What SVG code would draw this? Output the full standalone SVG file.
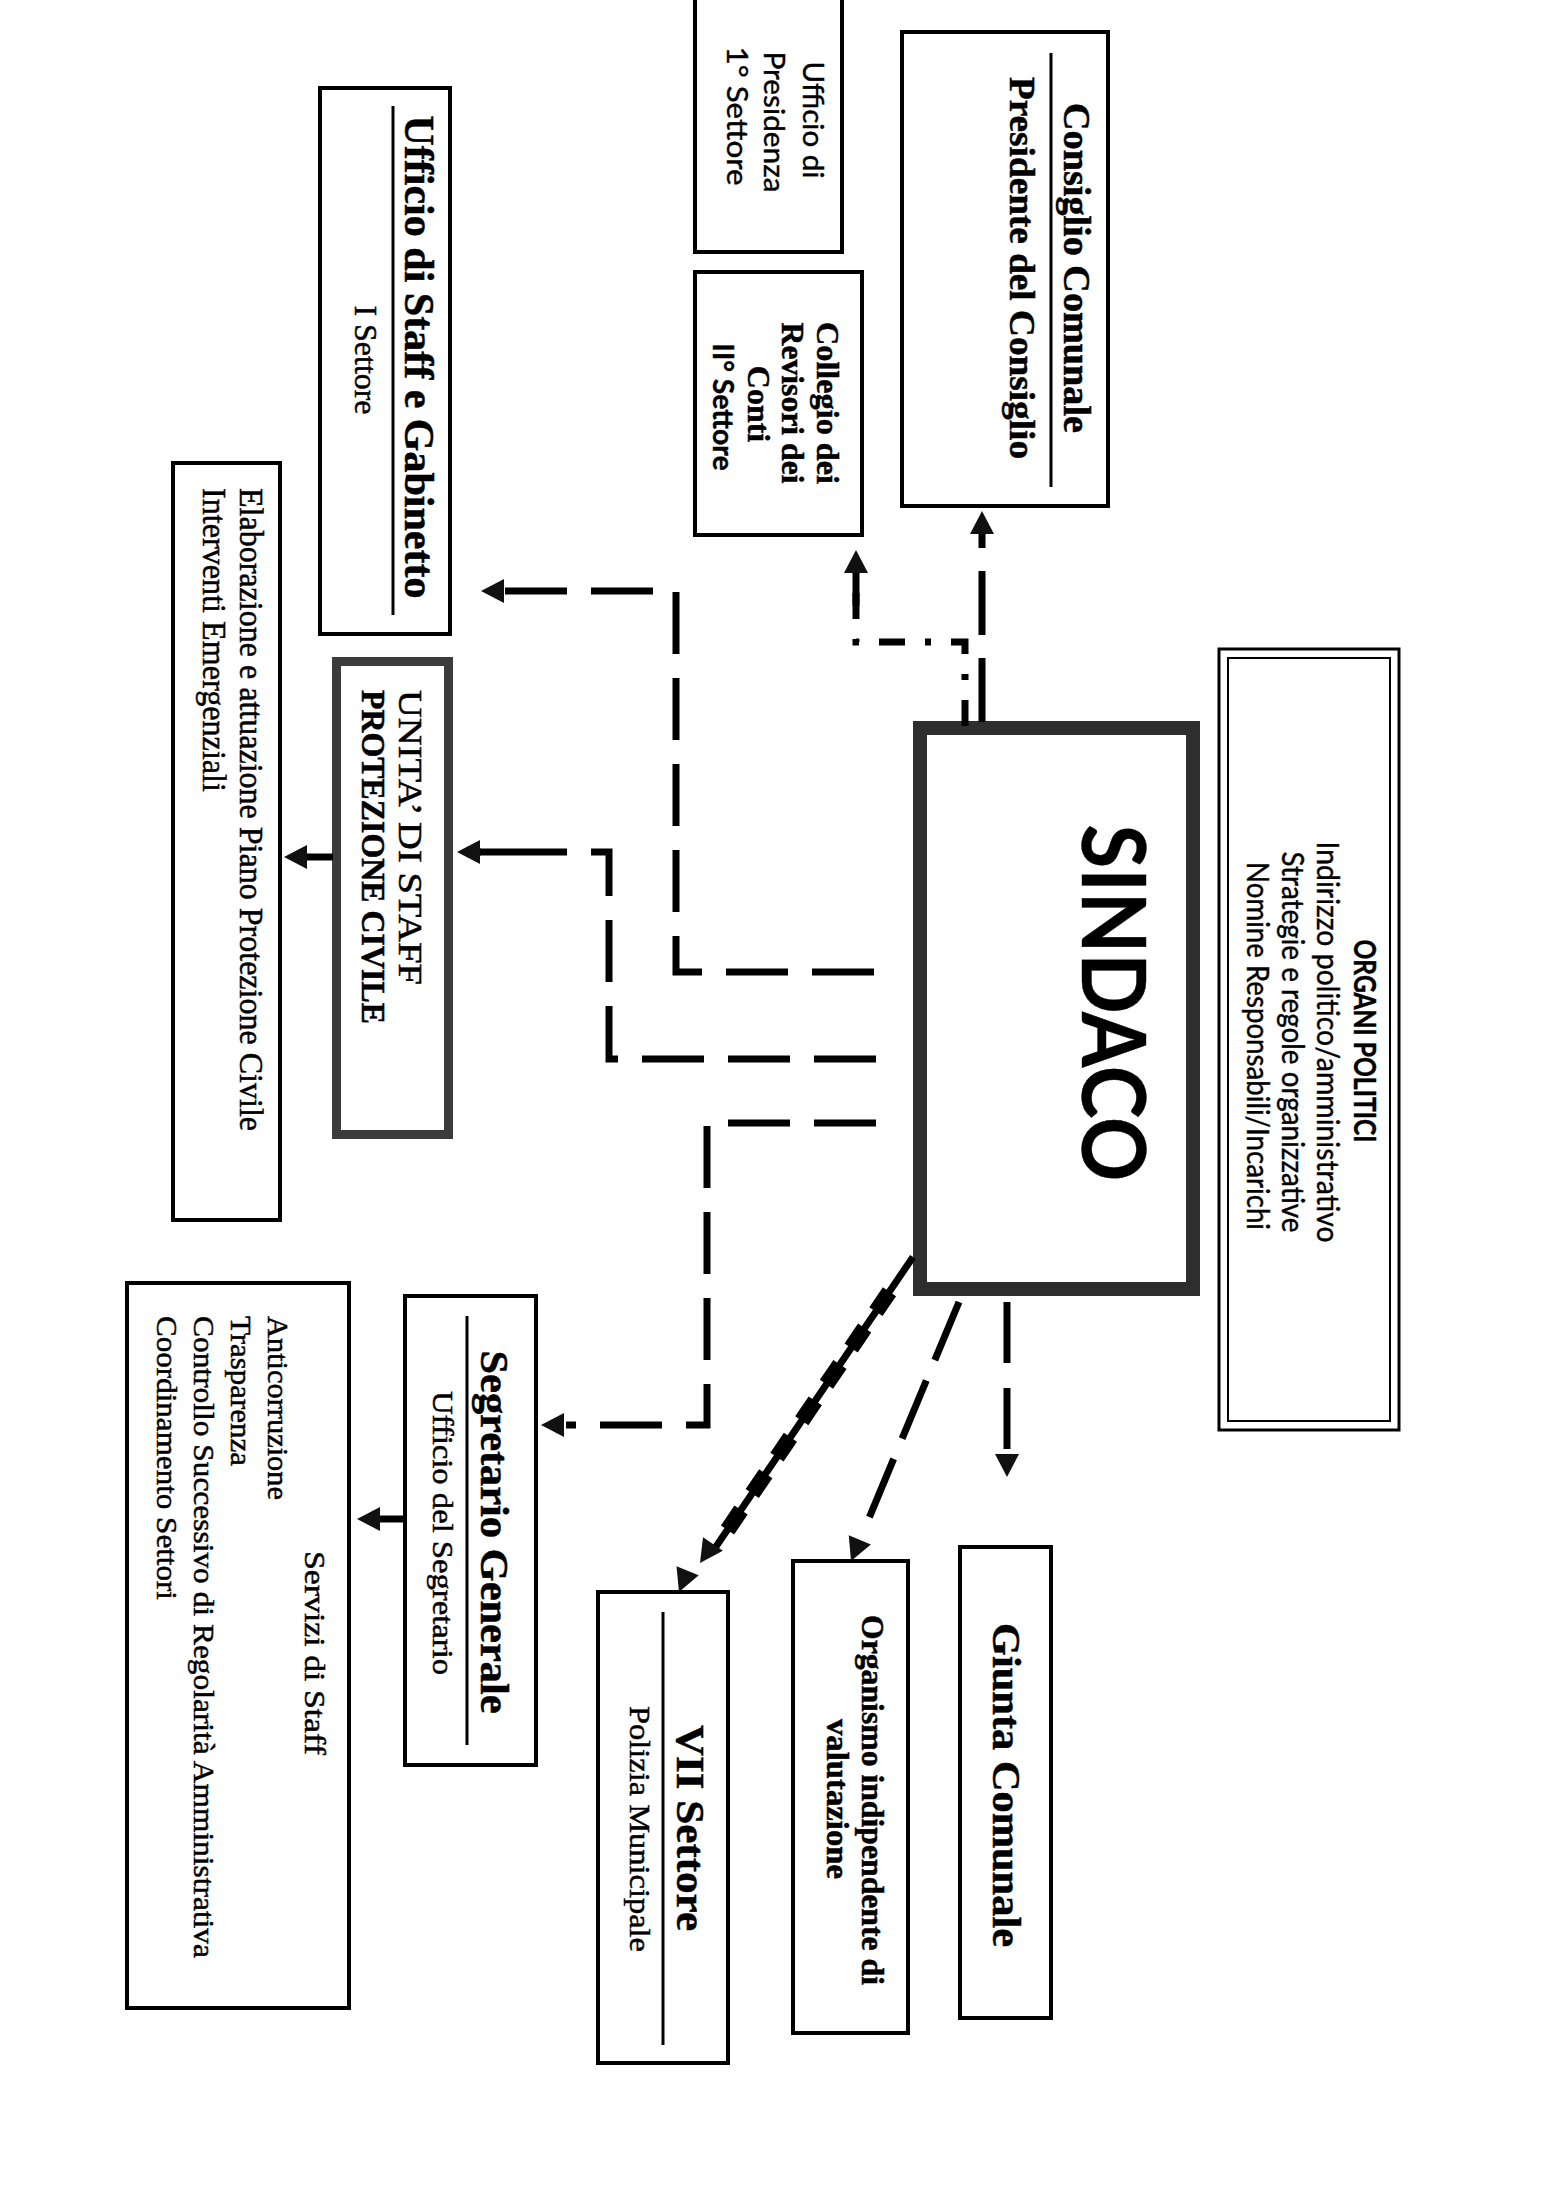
<svg xmlns="http://www.w3.org/2000/svg" xmlns:xlink="http://www.w3.org/1999/xlink" width="1559" height="2201" viewBox="0 0 1559 2201">
  <style>
    .box { fill: #fff; stroke: #000; stroke-width: 4; }
    .rule { stroke: #000; stroke-width: 3; }
    .ser { font-family: "Liberation Serif", "Times New Roman", serif; fill: #000; stroke: #000; stroke-width: 0.5; }
    .sans { font-family: Lato, "Liberation Sans", sans-serif; fill: #000; stroke: #000; stroke-width: 0.4; }
    .b { font-weight: bold; }
    .dash { fill: none; stroke: #000; stroke-width: 7; stroke-dasharray: 62 24; stroke-linejoin: miter; stroke-linecap: butt; }
    .dashdot { fill: none; stroke: #000; stroke-width: 7; stroke-dasharray: 26 20 6 20; }
    .solid { fill: none; stroke: #000; stroke-width: 7; }
    .head { fill: #111; }
  </style>
  <defs>
    <!-- arrowhead pointing along +x, tip at the origin -->
    <path id="ah" d="M0,0 L-23,-12 L-23,12 Z"/>
    <!-- block of the stepped (zig-zag) line -->
    <rect id="blk" x="-12" y="-8" width="24" height="16"/>
  </defs>

  <rect width="1559" height="2201" fill="#fff"/>

  <!-- Ufficio di Presidenza -->
  <g id="ufficio-presidenza">
    <path d="M695,-5 V252 H842 V-5" fill="#fff" stroke="#000" stroke-width="4"/>
    <text class="sans" font-size="28" text-anchor="middle" transform="translate(803,120) rotate(90)" textLength="117" lengthAdjust="spacingAndGlyphs">Ufficio di</text>
    <text class="sans" font-size="28" text-anchor="middle" transform="translate(764,122) rotate(90)" textLength="141" lengthAdjust="spacingAndGlyphs">Presidenza</text>
    <text class="sans" font-size="28" text-anchor="middle" transform="translate(727,116) rotate(90)" textLength="139" lengthAdjust="spacingAndGlyphs">1° Settore</text>
  </g>

  <!-- Consiglio Comunale -->
  <g id="consiglio-comunale">
    <rect class="box" x="902" y="32" width="206" height="474"/>
    <line class="rule" x1="1051" y1="53" x2="1051" y2="487"/>
    <text class="ser b" font-size="37" text-anchor="middle" transform="translate(1064,268) rotate(90)" textLength="330" lengthAdjust="spacingAndGlyphs">Consiglio Comunale</text>
    <text class="ser b" font-size="35" text-anchor="middle" transform="translate(1010,268) rotate(90)" textLength="382" lengthAdjust="spacingAndGlyphs">Presidente del Consiglio</text>
  </g>

  <!-- Collegio dei Revisori dei Conti -->
  <g id="collegio-revisori">
    <rect class="box" x="695" y="272" width="167" height="263"/>
    <text class="ser b" font-size="32" text-anchor="middle" transform="translate(817,403) rotate(90)" textLength="162" lengthAdjust="spacingAndGlyphs">Collegio dei</text>
    <text class="ser b" font-size="32" text-anchor="middle" transform="translate(782,403) rotate(90)" textLength="161" lengthAdjust="spacingAndGlyphs">Revisori dei</text>
    <text class="ser b" font-size="32" text-anchor="middle" transform="translate(748,404) rotate(90)">Conti</text>
    <text class="sans b" font-size="29" text-anchor="middle" transform="translate(713,407) rotate(90)" textLength="127" lengthAdjust="spacingAndGlyphs">II° Settore</text>
  </g>

  <!-- Ufficio di Staff e Gabinetto -->
  <g id="ufficio-staff">
    <rect class="box" x="320" y="88" width="130" height="546"/>
    <line class="rule" x1="393" y1="106" x2="393" y2="615"/>
    <text class="ser b" font-size="42" text-anchor="middle" transform="translate(405,357) rotate(90)" textLength="483" lengthAdjust="spacingAndGlyphs">Ufficio di Staff e Gabinetto</text>
    <text class="ser" font-size="32" text-anchor="middle" transform="translate(355,360) rotate(90)" textLength="109" lengthAdjust="spacingAndGlyphs">I Settore</text>
  </g>

  <!-- Unità di staff Protezione Civile -->
  <g id="protezione-civile">
    <rect x="336.5" y="661.5" width="112" height="473" fill="#fff" stroke="#3c3c3c" stroke-width="9"/>
    <text class="ser" font-size="33" transform="translate(399,690) rotate(90)" textLength="295" lengthAdjust="spacingAndGlyphs">UNITA’ DI STAFF</text>
    <text class="ser b" font-size="33" transform="translate(362,690) rotate(90)" textLength="334" lengthAdjust="spacingAndGlyphs">PROTEZIONE CIVILE</text>
  </g>

  <!-- Elaborazione / Interventi -->
  <g id="piano-protezione">
    <rect class="box" x="173" y="463" width="107" height="757"/>
    <text class="ser" font-size="34" transform="translate(240,488) rotate(90)" textLength="643" lengthAdjust="spacingAndGlyphs">Elaborazione e attuazione Piano Protezione Civile</text>
    <text class="ser" font-size="34" transform="translate(203,488) rotate(90)" textLength="304" lengthAdjust="spacingAndGlyphs">Interventi Emergenziali</text>
  </g>

  <!-- Sindaco -->
  <g id="sindaco">
    <rect x="920" y="728" width="273" height="561" fill="#fff" stroke="#2e2e2e" stroke-width="14"/>
    <text class="sans b" font-size="88" text-anchor="middle" transform="translate(1082,1003) rotate(90)" textLength="357" lengthAdjust="spacingAndGlyphs">SINDACO</text>
  </g>

  <!-- Organi politici -->
  <g id="organi-politici">
    <rect x="1219" y="649" width="180" height="781" fill="#fff" stroke="#000" stroke-width="3"/>
    <rect x="1228" y="658" width="162" height="763" fill="none" stroke="#000" stroke-width="2"/>
    <text class="sans b" font-size="30" text-anchor="middle" transform="translate(1354,1041) rotate(90)" textLength="203" lengthAdjust="spacingAndGlyphs">ORGANI POLITICI</text>
    <text class="sans" font-size="30" text-anchor="middle" transform="translate(1317,1042) rotate(90)" textLength="401" lengthAdjust="spacingAndGlyphs">Indirizzo politico/amministrativo</text>
    <text class="sans" font-size="30" text-anchor="middle" transform="translate(1282,1042) rotate(90)" textLength="381" lengthAdjust="spacingAndGlyphs">Strategie e regole organizzative</text>
    <text class="sans" font-size="30" text-anchor="middle" transform="translate(1247,1046) rotate(90)" textLength="368" lengthAdjust="spacingAndGlyphs">Nomine Responsabili/Incarichi</text>
  </g>

  <!-- Giunta Comunale -->
  <g id="giunta-comunale">
    <rect class="box" x="960" y="1547" width="91" height="471"/>
    <text class="ser b" font-size="40" text-anchor="middle" transform="translate(993,1785) rotate(90)" textLength="324" lengthAdjust="spacingAndGlyphs">Giunta Comunale</text>
  </g>

  <!-- Organismo indipendente di valutazione -->
  <g id="organismo-valutazione">
    <rect class="box" x="793" y="1561" width="115" height="472"/>
    <text class="ser b" font-size="31" text-anchor="middle" transform="translate(862,1800) rotate(90)" textLength="370" lengthAdjust="spacingAndGlyphs">Organismo indipendente di</text>
    <text class="ser b" font-size="31" text-anchor="middle" transform="translate(827,1799) rotate(90)" textLength="160" lengthAdjust="spacingAndGlyphs">valutazione</text>
  </g>

  <!-- VII Settore -->
  <g id="vii-settore">
    <rect class="box" x="598" y="1592" width="130" height="471"/>
    <line class="rule" x1="663" y1="1612" x2="663" y2="2045"/>
    <text class="ser b" font-size="40" text-anchor="middle" transform="translate(677,1828) rotate(90)" textLength="206" lengthAdjust="spacingAndGlyphs">VII Settore</text>
    <text class="ser" font-size="30" text-anchor="middle" transform="translate(630,1829) rotate(90)" textLength="246" lengthAdjust="spacingAndGlyphs">Polizia Municipale</text>
  </g>

  <!-- Segretario Generale -->
  <g id="segretario-generale">
    <rect class="box" x="405" y="1296" width="131" height="469"/>
    <line class="rule" x1="467" y1="1316" x2="467" y2="1745"/>
    <text class="ser b" font-size="40" text-anchor="middle" transform="translate(481,1532) rotate(90)" textLength="363" lengthAdjust="spacingAndGlyphs">Segretario Generale</text>
    <text class="ser" font-size="30" text-anchor="middle" transform="translate(433,1533) rotate(90)" textLength="284" lengthAdjust="spacingAndGlyphs">Ufficio del Segretario</text>
  </g>

  <!-- Servizi di Staff -->
  <g id="servizi-staff">
    <rect class="box" x="127" y="1283" width="222" height="725"/>
    <text class="ser" font-size="30" text-anchor="middle" transform="translate(305,1653) rotate(90)" textLength="204" lengthAdjust="spacingAndGlyphs">Servizi di Staff</text>
    <text class="ser" font-size="30" transform="translate(268,1316) rotate(90)" textLength="184" lengthAdjust="spacingAndGlyphs">Anticorruzione</text>
    <text class="ser" font-size="30" transform="translate(231,1316) rotate(90)" textLength="150" lengthAdjust="spacingAndGlyphs">Trasparenza</text>
    <text class="ser" font-size="30" transform="translate(194,1316) rotate(90)" textLength="642" lengthAdjust="spacingAndGlyphs">Controllo Successivo di Regolarità Amministrativa</text>
    <text class="ser" font-size="30" transform="translate(157,1316) rotate(90)" textLength="284" lengthAdjust="spacingAndGlyphs">Coordinamento Settori</text>
  </g>

  <!-- Connectors -->
  <g id="connectors">
    <!-- Sindaco to Consiglio Comunale -->
    <path class="dash" d="M982,722 V534" style="stroke-dasharray:64 23"/>
    <use xlink:href="#ah" class="head" transform="translate(982,511) rotate(-90)"/>

    <!-- Sindaco to Collegio dei Revisori (dash-dot) -->
    <path class="dashdot" d="M965,726 V642 H856 V575"/>
    <line class="solid" x1="856" y1="606" x2="856" y2="570"/>
    <use xlink:href="#ah" class="head" transform="translate(856,550) rotate(-90)"/>

    <!-- Sindaco to Ufficio di Staff -->
    <path class="dash" d="M874,972 H676 V591 H503"/>
    <use xlink:href="#ah" class="head" transform="translate(481,591) rotate(180)"/>

    <!-- Sindaco to Protezione Civile -->
    <path class="dash" d="M876,1059 H609 V852 H480"/>
    <line class="solid" x1="505" y1="852" x2="478" y2="852"/>
    <use xlink:href="#ah" class="head" transform="translate(457,852) rotate(180)"/>

    <!-- Sindaco to Segretario Generale -->
    <path class="dash" d="M876,1123 H707 V1425 H566"/>
    <use xlink:href="#ah" class="head" transform="translate(541,1425) rotate(180)"/>

    <!-- Protezione Civile to piano -->
    <line class="solid" x1="333" y1="857" x2="302" y2="857"/>
    <use xlink:href="#ah" class="head" transform="translate(284,857) rotate(180)"/>

    <!-- Segretario to Servizi di Staff -->
    <line class="solid" x1="405" y1="1519" x2="376" y2="1519"/>
    <use xlink:href="#ah" class="head" transform="translate(357,1519) rotate(180)"/>

    <!-- Sindaco to Giunta Comunale -->
    <path class="dash" d="M1007,1302 V1454" style="stroke-dasharray:61 25"/>
    <use xlink:href="#ah" class="head" transform="translate(1007,1477) rotate(90)"/>

    <!-- Sindaco to Organismo di valutazione -->
    <path class="dash" d="M959,1302 L862,1535" style="stroke-dasharray:63 22"/>
    <use xlink:href="#ah" class="head" transform="translate(851,1561) rotate(112.6)"/>

    <!-- Sindaco to VII Settore (stepped line, double head) -->
    <line class="solid" x1="913" y1="1257" x2="713" y2="1551"/>
    <use xlink:href="#blk" transform="translate(882.7,1301.7) rotate(124.2)"/>
    <use xlink:href="#blk" transform="translate(857.9,1338) rotate(124.2)"/>
    <use xlink:href="#blk" transform="translate(833.2,1374.4) rotate(124.2)"/>
    <use xlink:href="#blk" transform="translate(808.5,1410.8) rotate(124.2)"/>
    <use xlink:href="#blk" transform="translate(783.7,1447.2) rotate(124.2)"/>
    <use xlink:href="#blk" transform="translate(759,1483.6) rotate(124.2)"/>
    <use xlink:href="#blk" transform="translate(734.3,1520) rotate(124.2)"/>
    <use xlink:href="#ah" class="head" transform="translate(700,1563) rotate(124.2)"/>
    <use xlink:href="#ah" class="head" transform="translate(679,1592) rotate(112)"/>
  </g>
</svg>
